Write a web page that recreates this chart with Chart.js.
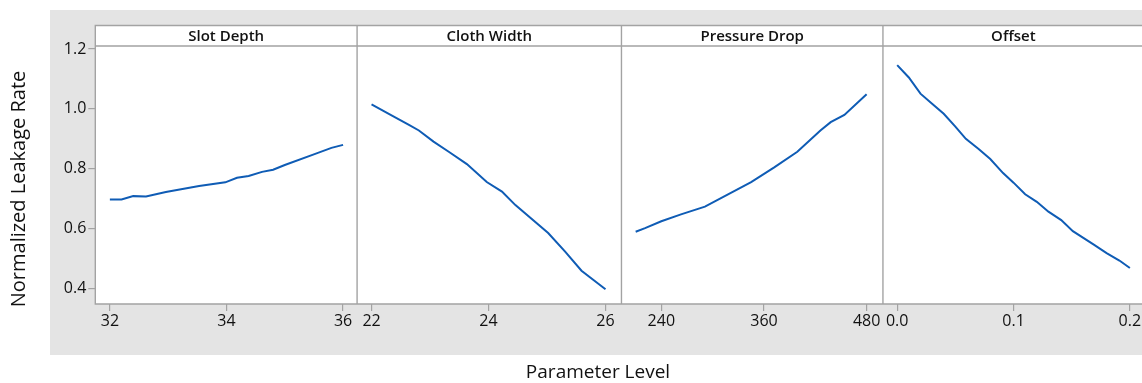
<!DOCTYPE html>
<html>
<head>
<meta charset="utf-8">
<script src="https://cdn.jsdelivr.net/npm/chart.js@4.4.1/dist/chart.umd.min.js"></script>
<style>
  html, body { margin: 0; padding: 0; background: #ffffff; overflow: hidden; width: 1142px; height: 383px; }
  #plot { position: absolute; left: 0; top: 0; }
</style>
</head>
<body>
<canvas id="plot" width="1150" height="383"></canvas>
<script>
// Facet titles, one per parameter
const panelTitles = ['Slot Depth', 'Cloth Width', 'Pressure Drop', 'Offset'];

// Slot Depth
const slotDepthX = [32, 32.2, 32.4, 32.62, 32.96, 33.53, 33.98, 34.18, 34.38, 34.61, 34.8, 35.0, 35.51, 35.8, 36];
const slotDepthY = [0.698, 0.698, 0.709, 0.708, 0.723, 0.743, 0.755, 0.770, 0.776, 0.790, 0.797, 0.813, 0.849, 0.870, 0.880];

// Cloth Width
const clothWidthX = [22, 22.35, 22.64, 22.81, 23.06, 23.32, 23.63, 23.97, 24.23, 24.46, 25.02, 25.31, 25.59, 26];
const clothWidthY = [1.015, 0.978, 0.947, 0.928, 0.891, 0.857, 0.816, 0.756, 0.724, 0.679, 0.586, 0.524, 0.460, 0.398];

// Pressure Drop
const pressureDropX = [210, 221, 240, 263, 291, 318, 345, 372, 399, 426, 438, 454, 480];
const pressureDropY = [0.590, 0.602, 0.625, 0.648, 0.674, 0.715, 0.756, 0.805, 0.857, 0.928, 0.956, 0.980, 1.049];

// Offset
const offsetX = [0, 0.01, 0.02, 0.029, 0.04, 0.05, 0.059, 0.07, 0.08, 0.091, 0.10, 0.11, 0.12, 0.13, 0.141, 0.151, 0.169, 0.18, 0.191, 0.2];
const offsetY = [1.146, 1.105, 1.051, 1.021, 0.984, 0.941, 0.900, 0.866, 0.833, 0.786, 0.754, 0.715, 0.690, 0.657, 0.629, 0.592, 0.547, 0.519, 0.494, 0.469];

// Tick values and their labels
const slotDepthTicks = [32, 34, 36];
const clothWidthTicks = [22, 24, 26];
const pressureDropTicks = [240, 360, 480];
const offsetTicks = [0.0, 0.1, 0.2];
const offsetTickLabels = ['0.0', '0.1', '0.2'];
const yTicks = [0.4, 0.6, 0.8, 1.0, 1.2];
const yTickLabels = ['0.4', '0.6', '0.8', '1.0', '1.2'];

const yTitle = 'Normalized Leakage Rate';
const xTitle = 'Parameter Level';

const FONT = "'Open Sans', 'Noto Sans', sans-serif";
const LINE = '#0f5cb5';
const FRAME = '#a3a3a3';
const TEXT = '#111111';
const STRIP_TOP = 25.5;

const seriesX = [slotDepthX, clothWidthX, pressureDropX, offsetX];
const seriesY = [slotDepthY, clothWidthY, pressureDropY, offsetY];
const tickSets = [slotDepthTicks, clothWidthTicks, pressureDropTicks, offsetTicks];
const tickLabelSets = [slotDepthTicks.map(String), clothWidthTicks.map(String), pressureDropTicks.map(String), offsetTickLabels];
const ranges = [[31.75, 36.24], [21.753, 26.273], [193.4, 499.1], [-0.01225, 0.212]];
const weights = [262.7, 265.3, 262.4, 261.8];

const datasets = seriesX.map((xs, i) => ({
  label: panelTitles[i],
  data: xs.map((x, k) => ({ x: x, y: seriesY[i][k] })),
  xAxisID: 'x' + i,
  yAxisID: 'y',
  borderColor: LINE,
  borderWidth: 2,
  pointRadius: 0,
  tension: 0,
  fill: false
}));

const scales = {
  y: {
    type: 'linear',
    position: 'left',
    min: 0.349,
    max: 1.21,
    afterBuildTicks: s => { s.ticks = yTicks.map(v => ({ value: v })); },
    afterFit: s => { s.width = 95.3; },
    ticks: {
      color: TEXT,
      padding: 2,
      font: { family: FONT, size: 16 },
      callback: (v) => yTickLabels[yTicks.findIndex(t => Math.abs(t - v) < 1e-9)]
    },
    grid: { drawOnChartArea: false, tickLength: 7, color: FRAME, lineWidth: 1.2 },
    border: { display: false }
  }
};

seriesX.forEach((xs, i) => {
  scales['x' + i] = {
    type: 'linear',
    position: 'bottom',
    stack: 'facets',
    stackWeight: weights[i],
    min: ranges[i][0],
    max: ranges[i][1],
    afterBuildTicks: s => { s.ticks = tickSets[i].map(v => ({ value: v })); },
    afterFit: s => { s.height = 40; },
    ticks: {
      color: TEXT,
      padding: 1,
      autoSkip: false,
      maxRotation: 0,
      font: { family: FONT, size: 16 },
      callback: (v) => tickLabelSets[i][tickSets[i].findIndex(t => Math.abs(t - v) < 1e-9)]
    },
    grid: { drawOnChartArea: false, tickLength: 7, color: FRAME, lineWidth: 1.2 },
    border: { display: false }
  };
});

// Background, facet frames, strip headers and axis titles
const facetFrame = {
  id: 'facetFrame',
  beforeDraw(chart) {
    const { ctx, chartArea: a } = chart;
    ctx.save();
    ctx.fillStyle = '#ffffff';
    ctx.fillRect(0, 0, chart.width, chart.height);
    ctx.fillStyle = '#e4e4e4';
    ctx.fillRect(50, 10, chart.width - 50, 345);
    ctx.fillStyle = '#ffffff';
    ctx.fillRect(a.left, STRIP_TOP, a.right - a.left, a.bottom - STRIP_TOP);
    ctx.restore();
  },
  afterDraw(chart) {
    const { ctx, chartArea: a } = chart;
    ctx.save();
    ctx.strokeStyle = FRAME;
    ctx.lineWidth = 1.4;
    ctx.beginPath();
    ctx.rect(a.left, STRIP_TOP, a.right - a.left, a.bottom - STRIP_TOP);
    ctx.moveTo(a.left, a.top);
    ctx.lineTo(a.right, a.top);
    for (let i = 1; i < panelTitles.length; i++) {
      const xl = chart.scales['x' + i].left;
      ctx.moveTo(xl, STRIP_TOP);
      ctx.lineTo(xl, a.bottom);
    }
    ctx.stroke();

    ctx.fillStyle = TEXT;
    ctx.textAlign = 'center';
    ctx.textBaseline = 'middle';
    ctx.font = '600 15px ' + FONT;
    panelTitles.forEach((t, i) => {
      const s = chart.scales['x' + i];
      ctx.fillText(t, (s.left + s.right) / 2, (STRIP_TOP + a.top) / 2 + 0.5);
    });

    ctx.font = '19px ' + FONT;
    ctx.fillText(xTitle, 598, 373);
    ctx.font = '20px ' + FONT;
    ctx.translate(19, 189);
    ctx.rotate(-Math.PI / 2);
    ctx.fillText(yTitle, 0, 0);
    ctx.restore();
  }
};

new Chart(document.getElementById('plot'), {
  type: 'line',
  data: { datasets },
  options: {
    responsive: false,
    animation: false,
    devicePixelRatio: 1,
    layout: { padding: { left: 0, top: 46, right: 2.5, bottom: 39 } },
    plugins: { legend: { display: false }, tooltip: { enabled: false }, title: { display: false } },
    scales
  },
  plugins: [facetFrame]
});
</script>
</body>
</html>
